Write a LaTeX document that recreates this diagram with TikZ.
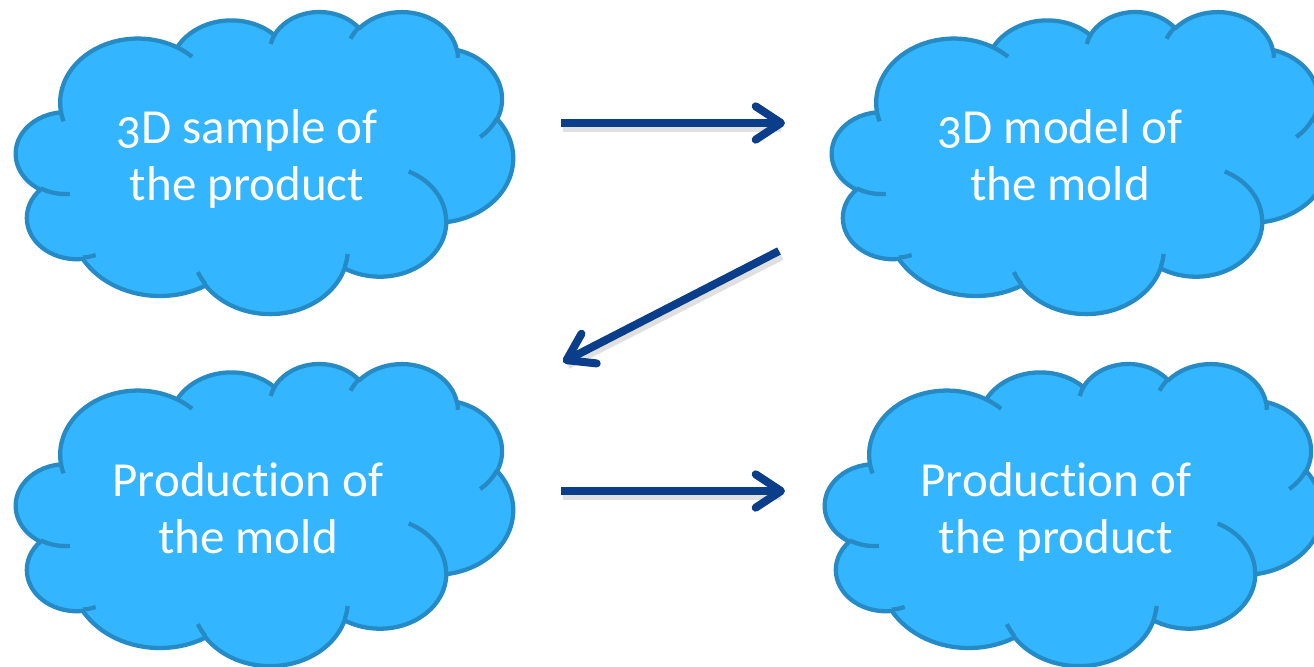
\documentclass[tikz,border=0pt]{standalone}
\usepackage{fontspec}
\setmainfont{Carlito}[Numbers=OldStyle,Ligatures=NoCommon,Contextuals=NoAlternate]
\usetikzlibrary{arrows.meta}
\definecolor{cloudfill}{RGB}{51,181,255}
\definecolor{cloudline}{RGB}{38,139,196}
\definecolor{arrowblue}{RGB}{10,61,138}
\tikzset{
  cloudbody/.style={fill=cloudfill,draw=cloudline,line width=3.2pt,line join=round},
  cloudedge/.style={draw=cloudline,line width=3.2pt},
  cloudtext/.style={text=white,inner sep=0pt,anchor=base,font=\fontsize{36.75}{42.75}\selectfont},
  flowarrow/.style={draw=arrowblue,line width=6pt,-{Straight Barb[length=19pt,width=25pt,round]}},
  flowshadow/.style={draw=black,opacity=0.12,line width=8pt},
}
\newcommand\cloudshape[4]{%
  \begin{scope}[shift={(#1,#2)},xscale=#3,yscale=#4]
    \path[cloudbody] (39.00,143.70)
      arc[start angle=-187.745,end angle=-59.637,x radius=67.53,y radius=91.90]
      arc[start angle=-152.037,end angle=-45.416,x radius=53.33,y radius=72.67]
      arc[start angle=-153.49,end angle=-37.31,x radius=43.65,y radius=59.45]
      arc[start angle=-139.71,end angle=-10.21,x radius=48.57,y radius=65.95]
      arc[start angle=-74.77,end angle=23.21,x radius=53.33,y radius=72.73]
      arc[start angle=-37.51,end angle=81.86,x radius=67.75,y radius=92.20]
      arc[start angle=0.46,end angle=121.98,x radius=57.85,y radius=78.67]
      arc[start angle=16.85,end angle=146.23,x radius=67.52,y radius=92.15]
      arc[start angle=58.99,end angle=150.19,x radius=77.20,y radius=105.43]
      arc[start angle=-276.69,end angle=-136.89,x radius=43.60,y radius=59.18]
      arc[start angle=-239.64,end angle=-95.89,x radius=43.45,y radius=59.45]
      -- cycle;
    \path[cloudedge]
      (46.93,261.77) arc[start angle=85.55,end angle=120.36,x radius=43.45,y radius=59.45]
      (69.28,348.99) arc[start angle=68.24,end angle=83.31,x radius=43.60,y radius=59.18]
      (164.78,390.90) arc[start angle=146.23,end angle=158.47,x radius=67.52,y radius=92.15]
      (288.27,347.51) arc[start angle=4.74,end angle=16.85,x radius=67.52,y radius=92.15]
      (341.29,229.54) arc[start angle=-64.03,end angle=0.46,x radius=57.85,y radius=78.67]
      (417.98,153.54) arc[start angle=23.21,end angle=49.65,x radius=53.33,y radius=72.73]
      (383.24,54.26) arc[start angle=-10.21,end angle=0.82,x radius=48.57,y radius=65.95]
      (290.78,39.52) arc[start angle=-156.30,end angle=-139.71,x radius=48.57,y radius=65.95]
      (221.41,47.20) arc[start angle=-167.73,end angle=-153.49,x radius=43.65,y radius=59.45]
      (140.00,51.92) arc[start angle=-59.637,end angle=-45.70,x radius=67.53,y radius=91.90]
      (41.27,157.89) arc[start angle=163.20,end angle=172.255,x radius=67.53,y radius=91.90];
  \end{scope}}
\begin{document}
\begin{tikzpicture}[x=0.75pt,y=-0.75pt]
  \useasboundingbox (0,0) rectangle (1314,667);
  \fill[white] (0,0) rectangle (1314,667);
  \clip (0,0) rectangle (1314,667);
  % clouds
  \cloudshape{16}{11}{1.1505}{0.6991}
  \cloudshape{832}{11}{1.1505}{0.6991}
  \cloudshape{16}{363}{1.1505}{0.6991}
  \cloudshape{825}{363}{1.1505}{0.6991}
  % texts
  \node[cloudtext] (t1) at (247,143) {\begin{tabular}[t]{@{}c@{}}3D sample of\\the product\end{tabular}};
  \node[cloudtext] (t2) at (1060,143) {\begin{tabular}[t]{@{}c@{}}3D model of\\the mold\end{tabular}};
  \node[cloudtext] (t3) at (248,496) {\begin{tabular}[t]{@{}c@{}}Product\kern0pt ion of\\the mold\end{tabular}};
  \node[cloudtext] (t4) at (1056,496) {\begin{tabular}[t]{@{}c@{}}Product\kern0pt ion of\\the product\end{tabular}};
  % arrow end points
  \coordinate (a1s) at (561,123);
  \coordinate (a1e) at (785,123);
  \coordinate (a2s) at (779,251);
  \coordinate (a2e) at (563,362);
  \coordinate (a3s) at (561,491);
  \coordinate (a3e) at (785,491);
  % shadows
  \draw[flowshadow] ([shift={(2,4)}]a1s) -- ([shift={(-4,4)}]a1e);
  \draw[flowshadow] ([shift={(2,4)}]a2s) -- ([shift={(4,2)}]a2e);
  \draw[flowshadow] ([shift={(2,4)}]a3s) -- ([shift={(-4,4)}]a3e);
  % arrows
  \draw[flowarrow] (a1s) -- (a1e);
  \draw[flowarrow] (a2s) -- (a2e);
  \draw[flowarrow] (a3s) -- (a3e);
\end{tikzpicture}
\end{document}
